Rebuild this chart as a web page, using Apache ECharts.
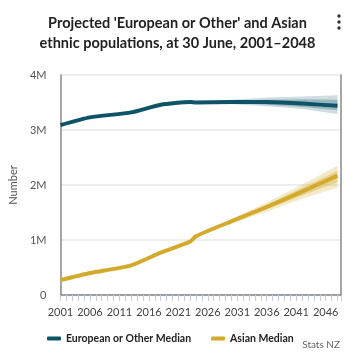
<!DOCTYPE html>
<html>
<head>
<meta charset="utf-8">
<script src="https://cdn.jsdelivr.net/npm/echarts@6/dist/echarts.min.js"></script>
<style>
  html, body { margin: 0; padding: 0; background: #fff; }
  #chart { width: 355px; height: 359px; }
</style>
</head>
<body>
<div id="chart"></div>
<script>
// values in millions
const euroYears = [2001, 2006, 2013, 2018, 2023, 2024, 2030, 2036, 2042, 2048];
const euroMedian = [3.09, 3.23, 3.32, 3.46, 3.51, 3.50, 3.51, 3.51, 3.48, 3.44];
const asianYears = [2001, 2006, 2013, 2018, 2023, 2024, 2030, 2036, 2042, 2048];
const asianMedian = [0.27, 0.40, 0.54, 0.77, 0.97, 1.07, 1.34, 1.60, 1.88, 2.17];

const bandYears = [2024, 2030, 2036, 2042, 2048];
const euroOuterLow = [3.50, 3.47, 3.43, 3.38, 3.29];
const euroOuterHigh = [3.50, 3.55, 3.59, 3.61, 3.63];
const euroInnerLow = [3.50, 3.49, 3.46, 3.42, 3.36];
const euroInnerHigh = [3.50, 3.53, 3.55, 3.56, 3.55];
const asianOuterLow = [1.07, 1.30, 1.52, 1.75, 1.95];
const asianOuterHigh = [1.07, 1.38, 1.68, 2.01, 2.35];
const asianInnerLow = [1.07, 1.32, 1.56, 1.81, 2.05];
const asianInnerHigh = [1.07, 1.36, 1.64, 1.95, 2.26];

const yTicks = ['0', '1M', '2M', '3M', '4M'];

const EURO = '#0e5368';
const ASIAN = '#d3aa2c';
const FONT = 'Lato';

function pairs(xs, ys) { return xs.map((x, i) => [x, ys[i]]); }

// one polygon per band, built from the data through the axis scales
function band(lo, hi, color) {
  return {
    type: 'custom',
    silent: true,
    z: 1,
    data: bandYears.map((x, i) => [x, lo[i], hi[i]]),
    encode: { x: 0, y: [1, 2] },
    renderItem: function (params, api) {
      if (params.dataIndex !== 0) return null;
      const top = bandYears.map((x, i) => api.coord([x, hi[i]]));
      const bottom = bandYears.map((x, i) => api.coord([x, lo[i]])).reverse();
      return {
        type: 'polygon',
        shape: { points: top.concat(bottom) },
        style: { fill: color }
      };
    }
  };
}

const chart = echarts.init(document.getElementById('chart'));
chart.setOption({
  backgroundColor: '#fff',
  animation: false,
  title: {
    text: "Projected 'European or Other' and Asian\nethnic populations, at 30 June, 2001\u20132048",
    left: 'center',
    top: 8,
    textStyle: { fontFamily: FONT, fontWeight: 'bold', fontSize: 14.5, color: '#222', lineHeight: 20 }
  },
  graphic: [
    { type: 'circle', shape: { cx: 339, cy: 16, r: 1.7 }, style: { fill: '#333' } },
    { type: 'circle', shape: { cx: 339, cy: 22, r: 1.7 }, style: { fill: '#333' } },
    { type: 'circle', shape: { cx: 339, cy: 28, r: 1.7 }, style: { fill: '#333' } },
    { type: 'text', right: 15, top: 340, style: { text: 'Stats NZ', fill: '#666', font: '10px Lato' } }
  ],
  grid: { left: 48, right: 14, top: 75, bottom: 64 },
  legend: {
    bottom: 10,
    left: 42,
    itemGap: 20,
    itemWidth: 14,
    itemHeight: 4,
    icon: 'roundRect',
    data: ['European or Other Median', 'Asian Median'],
    textStyle: { fontFamily: FONT, fontWeight: 'bold', fontSize: 10.5, color: '#222' }
  },
  xAxis: {
    type: 'value',
    min: 2001,
    max: 2048.6,
    interval: 1,
    splitLine: { show: false },
    axisLine: { show: true, lineStyle: { color: '#888', width: 1.5 } },
    axisTick: { show: true, length: 6, lineStyle: { color: '#c3cbe6' } },
    axisLabel: {
      color: '#444', fontFamily: FONT, fontSize: 11, margin: 12,
      formatter: v => ((v - 2001) % 5 === 0 && v <= 2046) ? String(v) : ''
    }
  },
  yAxis: [
    {
      type: 'value', min: 0, max: 4, interval: 1,
      name: 'Number', nameLocation: 'middle', nameGap: 38, nameRotate: 90,
      nameTextStyle: { color: '#555', fontFamily: FONT, fontSize: 11 },
      axisLine: { show: true, lineStyle: { color: '#888', width: 1.5 } },
      axisTick: { show: false },
      axisLabel: { color: '#555', fontFamily: FONT, fontSize: 11, margin: 14, formatter: v => yTicks[v] },
      splitLine: { lineStyle: { color: '#e8e8e8', width: 1.5 } }
    },
    {
      type: 'value', min: 0, max: 4, interval: 1, position: 'right',
      axisLine: { show: true, lineStyle: { color: '#888', width: 1.5 } },
      axisTick: { show: false }, axisLabel: { show: false }, splitLine: { show: false }
    }
  ],
  series: [
    band(euroOuterLow, euroOuterHigh, 'rgba(14,83,104,0.2)'),
    band(euroInnerLow, euroInnerHigh, 'rgba(14,83,104,0.28)'),
    band(asianOuterLow, asianOuterHigh, 'rgba(211,170,44,0.25)'),
    band(asianInnerLow, asianInnerHigh, 'rgba(211,170,44,0.35)'),
    {
      name: 'European or Other Median', type: 'line', data: pairs(euroYears, euroMedian),
      symbol: 'none', smooth: 0.2, color: EURO, lineStyle: { width: 4, color: EURO }, z: 3
    },
    {
      name: 'Asian Median', type: 'line', data: pairs(asianYears, asianMedian),
      symbol: 'none', smooth: 0.2, color: ASIAN, lineStyle: { width: 4, color: ASIAN }, z: 3
    }
  ]
});
</script>
</body>
</html>
